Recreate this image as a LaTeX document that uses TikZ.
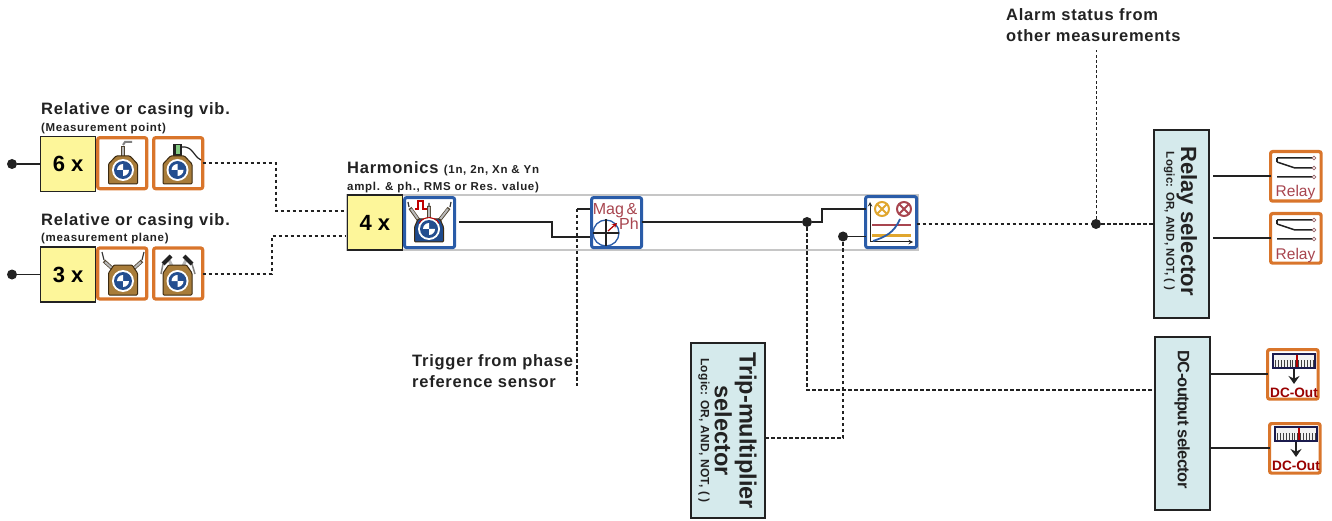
\documentclass[tikz,border=0pt]{standalone}
\usepackage{fontspec}
\usetikzlibrary{arrows.meta}
\setmainfont{Liberation Sans}
\newfontfamily\wideb[LetterSpace=4.6]{Liberation Sans}
\newfontfamily\wides[LetterSpace=6]{Liberation Sans}
\newfontfamily\logicf[LetterSpace=2]{Liberation Sans}
\newfontfamily\condb[LetterSpace=-4]{Liberation Sans}
\definecolor{ora}{HTML}{D9752B}
\definecolor{blu}{HTML}{2A5CA8}
\definecolor{dblu}{HTML}{1F4A8C}
\definecolor{brn}{HTML}{A87C3A}
\definecolor{dbrn}{HTML}{3C2A10}
\definecolor{yel}{HTML}{FDF69A}
\definecolor{cya}{HTML}{D5EAEC}
\definecolor{mar}{HTML}{A8454F}
\definecolor{gol}{HTML}{E0A62E}
\definecolor{lin}{HTML}{222222}
\newcommand{\rsf}{\fontsize{22}{24}\selectfont\bfseries}
\newcommand{\tsf}{\fontsize{23.5}{25}\selectfont\bfseries}
\newcommand{\logrf}{\logicf\fontsize{11.5}{13}\selectfont\bfseries}
\newcommand{\logtf}{\logicf\fontsize{12}{13}\selectfont\bfseries}
\tikzset{
  yelbox/.style={draw=lin,line width=1.6pt,outer sep=0pt,fill=yel,minimum width=55pt,minimum height=55pt,inner sep=0pt,font=\fontsize{22}{24}\selectfont\bfseries,anchor=north west},
  orabox/.style={draw=ora,line width=3.2pt,outer sep=0pt,rounded corners=2pt,fill=white,minimum width=49pt,minimum height=51pt,inner sep=0pt,anchor=north west},
  oras/.style={orabox,minimum width=50.5pt,minimum height=49.5pt},
  blubox/.style={draw=blu,line width=3pt,outer sep=0pt,rounded corners=2pt,fill=white,minimum width=50pt,minimum height=50pt,inner sep=0pt,anchor=north west},
  selbox/.style={draw=lin,line width=2pt,outer sep=0pt,fill=cya,inner sep=0pt,anchor=north west},
  sol/.style={draw=lin,line width=1.6pt},
  dsh/.style={draw=lin,line width=1.6pt,dash pattern=on 3.5pt off 2.5pt},
  thin dsh/.style={draw=lin,line width=0.9pt,dash pattern=on 3pt off 2.2pt},
  dotn/.style={circle,fill=lin,inner sep=0pt,minimum size=10pt},
  lab/.style={anchor=base west,inner sep=0pt,text=lin},
  bigl/.style={lab,font=\wideb\fontsize{16.5}{18}\selectfont\bfseries},
  smal/.style={lab,font=\wides\fontsize{11.5}{13}\selectfont\bfseries},
  iconlab/.style={inner sep=0pt,text=mar,font=\fontsize{15.5}{17}\selectfont},
  probe/.style={draw=dbrn!70!gray,line width=3.6pt},
  probein/.style={draw=gray!55,line width=2pt},
}
% #1 fill, #2 centre x, #3 half-width of top, #4 top y, #5 bottom y, #6 disc y
\newcommand{\housing}[6]{%
  \draw[dbrn,line width=1pt,fill=#1,rounded corners=1pt] (#2-14.5,#5) -- (#2-14.5,#4+8) -- (#2-#3,#4) -- (#2+#3,#4) -- (#2+14.5,#4+8) -- (#2+14.5,#5) -- cycle;
  \fill[white] (#2,#6) circle (11);
  \fill[blu!85!black] (#2,#6) circle (9);
  \fill[white] (#2,#6) -- (#2+6,#6) arc (0:90:6) -- cycle;
  \fill[white] (#2,#6) -- (#2-6,#6) arc (180:270:6) -- cycle;
}
\begin{document}
\begin{tikzpicture}[x=1pt,y=-1pt]
\useasboundingbox (0,0) rectangle (1332,521);
% band
\draw[gray!45,line width=1.4pt,fill=white] (347,195) rectangle (918,250);

% ---- boxes
\node[yelbox] (a6) at (40.6,136.6) {6 x};
\node[orabox] (a1) at (97.7,137.7) {};
\node[orabox] (a2) at (153.7,137.7) {};
\node[yelbox] (b3) at (40.6,247) {3 x};
\node[orabox] (b1) at (97.7,248) {};
\node[orabox] (b2) at (153.7,248) {};
\node[yelbox] (h4) at (347.4,195) {4 x};
\node[blubox] (hs) at (404.6,197.6) {};
\node[blubox] (mag) at (591.6,197.6) {};
\node[blubox,minimum width=51pt,minimum height=51pt] (alm) at (865.6,196.6) {};
\node[oras] (r1) at (1270.6,151.6) {};
\node[oras] (r2) at (1270.6,213.6) {};
\node[oras] (d1) at (1267.6,349.6) {};
\node[oras] (d2) at (1269.6,423.6) {};
\node[selbox,minimum width=54.5pt,minimum height=188pt] (rs) at (1154,130) {};
\node[selbox,minimum width=55pt,minimum height=172.5pt] (ds) at (1155,337) {};
\node[selbox,minimum width=74pt,minimum height=175pt] (ts) at (691,343) {};

% ---- selector texts
\node[rotate=-90,inner sep=0pt,align=center,text=lin] (rst) at (1180.5,221)
  {{\rsf Relay selector}\\[1pt]{\logrf Logic: OR, AND, NOT, ( )}};
\node[rotate=-90,inner sep=0pt,text=lin] (dst) at (1182,419.5)
  {\condb\fontsize{16.5}{18}\selectfont\bfseries DC-output selector};
\node[rotate=-90,inner sep=0pt,align=center,text=lin] (tst) at (727.5,430.5)
  {{\tsf Trip-multiplier}\\[2pt]{\tsf selector}\\[2pt]{\logtf Logic: OR, AND, NOT, ( )}};

% ---- labels
\node[bigl] (l1) at (41,115) {Relative or casing vib.};
\node[smal] (l2) at (41,132) {(Measurement point)};
\node[bigl] (l3) at (41,226) {Relative or casing vib.};
\node[smal] (l4) at (41,242) {(measurement plane)};
\node[bigl] (l5) at (347,174) {Harmonics {\wides\fontsize{11.5}{13}\selectfont\bfseries (1n, 2n, Xn \& Yn}};
\node[smal] (l6) at (347,191) {ampl. \& ph., RMS or Res. value)};
\node[bigl] (l7) at (1006,21) {Alarm status from};
\node[bigl] (l8) at (1006,42) {other measurements};
\node[bigl] (l9) at (412,366) {Trigger from phase};
\node[bigl] (l10) at (412,387) {reference sensor};

% ---- ports and dots
\node[dotn] (in1) at (12,164) {};
\node[dotn] (in2) at (12,274.5) {};
\coordinate (j1) at (276,163);
\coordinate (j2) at (272,274);
\coordinate (hi1) at (345,211);
\coordinate (hi2) at (345,236);
\coordinate (trg) at (577,209);
\coordinate (trgend) at (577,386);
\coordinate (mi1) at (590,209);
\coordinate (mi2) at (590,237);
\coordinate (hso) at (459,222);
\node[dotn] (n1) at (807,222) {};
\node[dotn] (n2) at (843,236.5) {};
\node[dotn] (n3) at (1096,224) {};
\coordinate (alarm) at (1096,50);

% ---- connectors
\draw[sol] (in1) -- (in1 -| a6.west);
\draw[sol] (in2) -- (in2 -| b3.west);
\draw[dsh] (a2.east |- j1) -- (j1) -- (j1 |- hi1) -- (hi1);
\draw[dsh] (b2.east |- j2) -- (j2) -- (j2 |- hi2) -- (hi2);
\draw[sol] (hso) -- (552,222) -- (552,237) -- (mi2);
\draw[dsh] (trg) -- (trgend);
\draw[sol] (trg) -- (mi1);
\draw[sol] (mag.east |- n1) -- (n1) -- (822,222) -- (822,209) -- (alm.west |- 0,209);
\draw[sol] (n2) -- (alm.west |- n2);
\draw[dsh] (alm.east |- n3) -- (n3) -- (rs.west |- n3);
\draw[thin dsh] (n3) -- (alarm);
\draw[dsh] (n1) -- (807,390) -- (ds.west |- 0,390);
\draw[dsh] (ts.east |- 0,438) -- (843,438) -- (n2);
\draw[sol] (1213,176) -- (r1.west |- 0,176);
\draw[sol] (1213,238) -- (r2.west |- 0,238);
\draw[sol] (ds.east |- 0,374) -- (d1.west |- 0,374);
\draw[sol] (ds.east |- 0,448) -- (d2.west |- 0,448);

% ---- sensor icons
\begin{scope}[shift={(96,136)}]
  \draw[gray,line width=2pt] (27,9) -- (29,6) -- (36,6);
  \draw[probe] (27,22) -- (27,10);
  \draw[probein] (27,22) -- (27,11);
  \housing{brn}{27}{7}{20}{48}{34}
\end{scope}
\begin{scope}[shift={(152,136)}]
  \draw[lin,line width=1.2pt] (30,11) .. controls (41,10) and (41,20) .. (49,24);
  \fill[lin] (21,8) rectangle (30,20);
  \fill[gray!60!green!70] (24,9) rectangle (28,18);
  \housing{brn}{25.5}{7}{20}{48}{34}
\end{scope}
\begin{scope}[shift={(96,247)}]
  \draw[gray!40!black,line width=1.2pt] (8,13) -- (6,5) (46,13) -- (48,5);
  \draw[probe] (18,23) -- (8,14) (36,23) -- (46,14);
  \draw[probein] (18,23) -- (9,15) (36,23) -- (45,15);
  \housing{brn}{27}{9}{18}{48}{34}
\end{scope}
\begin{scope}[shift={(152,247)}]
  \draw[gray,line width=1.5pt] (11,17) -- (9,27) (40,17) -- (43,27);
  \draw[probein,line width=3pt] (17,13) -- (22,23) (34,13) -- (29,23);
  \draw[lin,line width=4pt] (11,17) -- (19,9) (40,17) -- (32,9);
  \housing{brn}{25.5}{9}{18}{48}{34}
\end{scope}
\begin{scope}[shift={(403,196)}]
  \draw[gray!40!black,line width=1.2pt] (6,11) -- (5,6) (47,11) -- (48,6) (26,10) -- (26,7);
  \draw[probe] (17,26) -- (7,12) (35,26) -- (46,12) (26,26) -- (26,10);
  \draw[probein] (17,26) -- (8,13) (35,26) -- (45,13) (26,26) -- (26,11);
  \draw[red!75!black,line width=1.2pt] (12,13) -- (15,13) -- (15,5) -- (20,5) -- (20,13) -- (24,13);
  \housing{dblu}{26}{11}{23}{46}{33}
  \draw[red!75!black,line width=.9pt] (16,27.25) arc (210:330:11.5);
\end{scope}
% Mag & Ph
\begin{scope}[shift={(590,196)}]
  \node[iconlab,anchor=base] (magt) at (25,19) {\fontsize{16}{17}\selectfont Mag\,\&};
  \node[iconlab,anchor=base] (pht) at (39,34) {\fontsize{16}{17}\selectfont Ph};
  \draw[blu,line width=1.3pt] (16,37) circle (13);
  \draw[lin,line width=1.2pt] (3,37) -- (29,37) (16,23) -- (16,50);
  \draw[red!70!black,line width=1.2pt,-stealth] (18,35) -- (27,27);
\end{scope}
% alarm
\begin{scope}[shift={(865,196)}]
  \draw[lin,line width=1pt,-stealth] (5,46) -- (5,6);
  \draw[lin,line width=1pt,-stealth] (5,46) -- (48,46);
  \draw[mar,line width=2.4pt] (7,29) -- (46,29);
  \draw[gol,line width=3pt] (7,40) -- (46,40);
  \draw[blu,line width=1.8pt] (8,45) .. controls (20,41) and (29,37) .. (35,23);
  \draw[gol,line width=2pt] (17,13) circle (7);
  \draw[gol,line width=1.8pt] (12,8) -- (22,18) (12,18) -- (22,8);
  \draw[mar,line width=2pt] (39,13) circle (7);
  \draw[mar,line width=1.8pt] (34,8) -- (44,18) (34,18) -- (44,8);
\end{scope}
% relays
\foreach \rn/\yy in {r1/150,r2/212}{
\begin{scope}[shift={(1269,\yy)}]
  \draw[lin,line width=1.5pt] (8,8) -- (43,8) (8,12) -- (26,18) -- (43,18) (8,27) -- (43,27);
  \draw[lin,line width=1.5pt] (8,8) -- (8,12);
  \foreach \q in {8,18,27} \draw[mar!50!gray,fill=white,line width=.7pt] (45,\q) circle (1.8);
  \node[iconlab,anchor=base] (\rn t) at (26.5,47) {Relay};
\end{scope}}
% DC out
\foreach \rn/\xx/\yy in {d1/1267/349,d2/1269/422}{
\begin{scope}[shift={(\xx,\yy)}]
  \draw[lin!80!blue,fill=gray!10,line width=1.6pt] (6,5) rectangle (48,19);
  \draw[gray!50!black,line width=7pt,dash pattern=on .7pt off 2.2pt] (8,14) -- (46,14);
  \draw[red!70!black,line width=1.8pt] (30,6) -- (30,18);
  \draw[lin,line width=2.6pt,-{Stealth[length=8pt,width=11pt]}] (27,20) -- (27,35);
  \node[iconlab,anchor=base,text=red!60!black] (\rn t) at (27,48) {\fontsize{13.6}{15}\selectfont\bfseries DC-Out};
\end{scope}}
\end{tikzpicture}
\end{document}
